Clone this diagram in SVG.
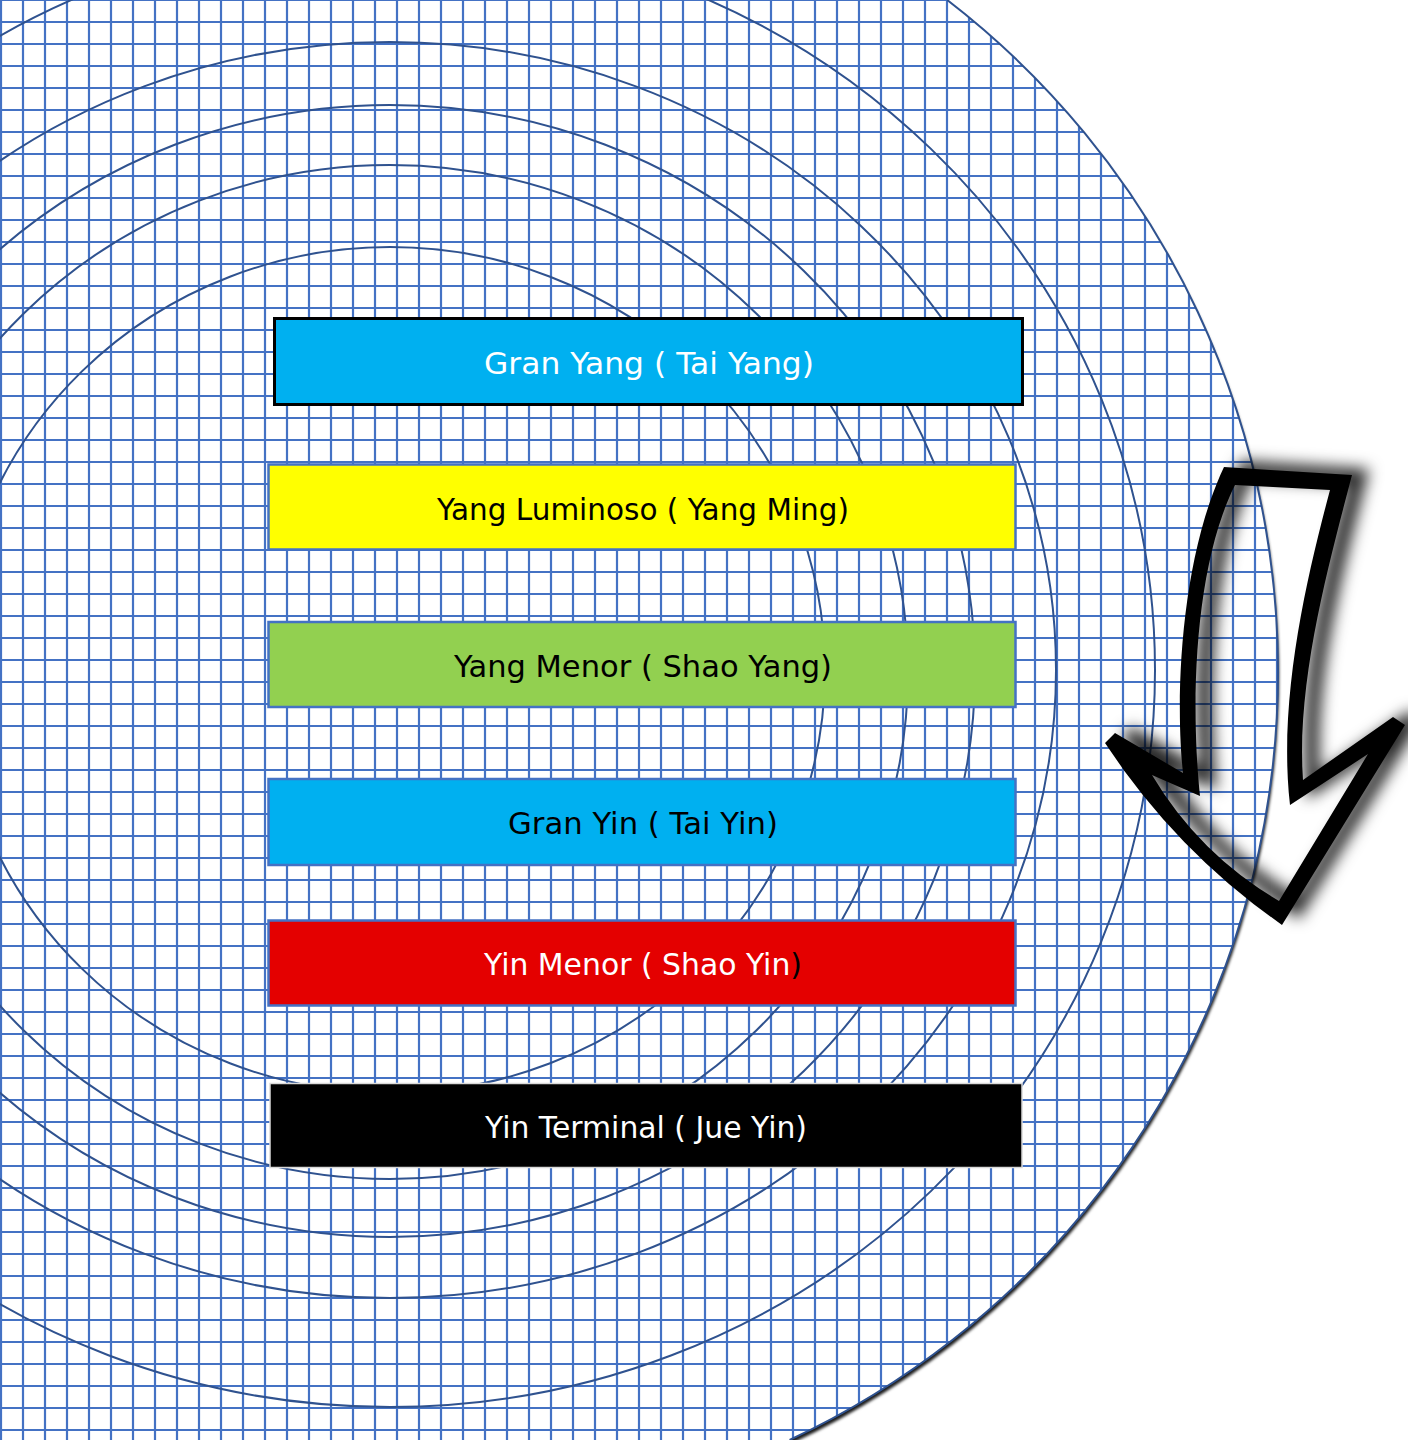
<svg xmlns="http://www.w3.org/2000/svg" width="1408" height="1440" viewBox="0 0 1408 1440">
<defs>
<style>
.ring{fill:none;stroke:#2F528F;stroke-width:2}
.bar{stroke:#4472C4;stroke-width:2.5}
.gridline{fill:none;stroke:#4472C4;stroke-width:2.2}
.lbl{font-family:"DejaVu Sans","Liberation Sans",sans-serif;font-size:30px;text-anchor:middle}
</style>
<clipPath id="discClip"><path d="M0 0H947.2A848 848 0 0 1 789.6 1440H0Z"/></clipPath>
<filter id="discShadow" x="-5%" y="-5%" width="110%" height="110%">
<feGaussianBlur in="SourceAlpha" stdDeviation="1.5"/>
<feOffset dx="1" dy="4" result="b"/>
<feFlood flood-color="#000" flood-opacity="0.9"/>
<feComposite in2="b" operator="in"/>
<feMerge><feMergeNode/><feMergeNode in="SourceGraphic"/></feMerge>
</filter>
<filter id="arrowShadow" x="-40%" y="-30%" width="180%" height="160%">
<feGaussianBlur in="SourceAlpha" stdDeviation="7.5"/>
<feOffset dx="17" dy="-6" result="b"/>
<feFlood flood-color="#000" flood-opacity="0.85"/>
<feComposite in2="b" operator="in"/>
<feMerge><feMergeNode/><feMergeNode in="SourceGraphic"/></feMerge>
</filter>
</defs>
<rect width="1408" height="1440" fill="#fff"/>
<g id="background-disc">
<path d="M0 0H947.2A848 848 0 0 1 789.6 1440H0Z" fill="#fff" filter="url(#discShadow)"/>
<path clip-path="url(#discClip)" class="gridline" d="M1 0V1440M23 0V1440M45 0V1440M67 0V1440M89 0V1440M111 0V1440M133 0V1440M155 0V1440M177 0V1440M199 0V1440M221 0V1440M243 0V1440M265 0V1440M287 0V1440M309 0V1440M331 0V1440M353 0V1440M375 0V1440M397 0V1440M419 0V1440M441 0V1440M463 0V1440M485 0V1440M507 0V1440M529 0V1440M551 0V1440M573 0V1440M595 0V1440M617 0V1440M639 0V1440M661 0V1440M683 0V1440M705 0V1440M727 0V1440M749 0V1440M771 0V1440M793 0V1440M815 0V1440M837 0V1440M859 0V1440M881 0V1440M903 0V1440M925 0V1440M947 0V1440M969 0V1440M991 0V1440M1013 0V1440M1035 0V1440M1057 0V1440M1079 0V1440M1101 0V1440M1123 0V1440M1145 0V1440M1167 0V1440M1189 0V1440M1211 0V1440M1233 0V1440M1255 0V1440M1277 0V1440M0 0H1300M0 22H1300M0 44H1300M0 66H1300M0 88H1300M0 110H1300M0 132H1300M0 154H1300M0 176H1300M0 198H1300M0 220H1300M0 242H1300M0 264H1300M0 286H1300M0 308H1300M0 330H1300M0 352H1300M0 374H1300M0 396H1300M0 418H1300M0 440H1300M0 462H1300M0 484H1300M0 506H1300M0 528H1300M0 550H1300M0 572H1300M0 594H1300M0 616H1300M0 638H1300M0 660H1300M0 682H1300M0 704H1300M0 726H1300M0 748H1300M0 770H1300M0 792H1300M0 814H1300M0 836H1300M0 858H1300M0 880H1300M0 902H1300M0 924H1300M0 946H1300M0 968H1300M0 990H1300M0 1012H1300M0 1034H1300M0 1056H1300M0 1078H1300M0 1100H1300M0 1122H1300M0 1144H1300M0 1166H1300M0 1188H1300M0 1210H1300M0 1232H1300M0 1254H1300M0 1276H1300M0 1298H1300M0 1320H1300M0 1342H1300M0 1364H1300M0 1386H1300M0 1408H1300M0 1430H1300"/>
<path d="M947.2 0A848 848 0 0 1 789.6 1440" class="ring"/>
</g>
<g id="rings" clip-path="url(#discClip)">
<ellipse class="ring" cx="390" cy="670" rx="435" ry="423"/>
<ellipse class="ring" cx="390" cy="672" rx="518" ry="507"/>
<ellipse class="ring" cx="390" cy="671" rx="585" ry="566"/>
<ellipse class="ring" cx="390" cy="670" rx="666" ry="628"/>
<ellipse class="ring" cx="390" cy="670" rx="765" ry="737"/>
</g>
<g id="node-gran-yang">
<rect x="274.5" y="318.5" width="748" height="86" fill="#00B0F0" stroke="#000" stroke-width="3"/>
<text class="lbl" x="649" y="374" fill="#fff" textLength="330" lengthAdjust="spacingAndGlyphs">Gran Yang ( Tai Yang)</text>
</g>
<g id="node-yang-luminoso">
<rect class="bar" x="268.5" y="464.5" width="747" height="85" fill="#FFFF00"/>
<text class="lbl" x="643" y="520" fill="#000" textLength="412" lengthAdjust="spacingAndGlyphs">Yang Luminoso ( Yang Ming)</text>
</g>
<g id="node-yang-menor">
<rect class="bar" x="268.5" y="622" width="747" height="85" fill="#92D050"/>
<text class="lbl" x="643" y="677" fill="#000" textLength="378" lengthAdjust="spacingAndGlyphs">Yang Menor ( Shao Yang)</text>
</g>
<g id="node-gran-yin">
<rect class="bar" x="268.5" y="779" width="747" height="86" fill="#00B0F0"/>
<text class="lbl" x="643" y="834" fill="#000" textLength="270" lengthAdjust="spacingAndGlyphs">Gran Yin ( Tai Yin)</text>
</g>
<g id="node-yin-menor">
<rect class="bar" x="268.5" y="920.5" width="747" height="85" fill="#E40000"/>
<text class="lbl" x="643" y="975" fill="#fff" textLength="318" lengthAdjust="spacingAndGlyphs">Yin Menor ( Shao Yin<tspan fill="#000">)</tspan></text>
</g>
<g id="node-yin-terminal">
<rect x="270" y="1083.5" width="752" height="84" fill="#000" stroke="#D9D9D9" stroke-width="1.5"/>
<text class="lbl" x="646" y="1138" fill="#fff" textLength="322" lengthAdjust="spacingAndGlyphs">Yin Terminal ( Jue Yin)</text>
</g>
<g id="arrow">
<path fill="#000" fill-rule="evenodd" filter="url(#arrowShadow)" d="M1224 467L1352 475C1330 560 1296 680 1303 780L1393 717L1405 725L1282 925Q1176 851 1105 743L1115 733L1183 773C1175 700 1180 560 1224 467Z M1235 485L1330 490C1306 580 1278 700 1290 805L1368 754L1279 901Q1199 854 1152 775L1200 796C1190 700 1195 565 1235 485Z"/>
</g>
</svg>
